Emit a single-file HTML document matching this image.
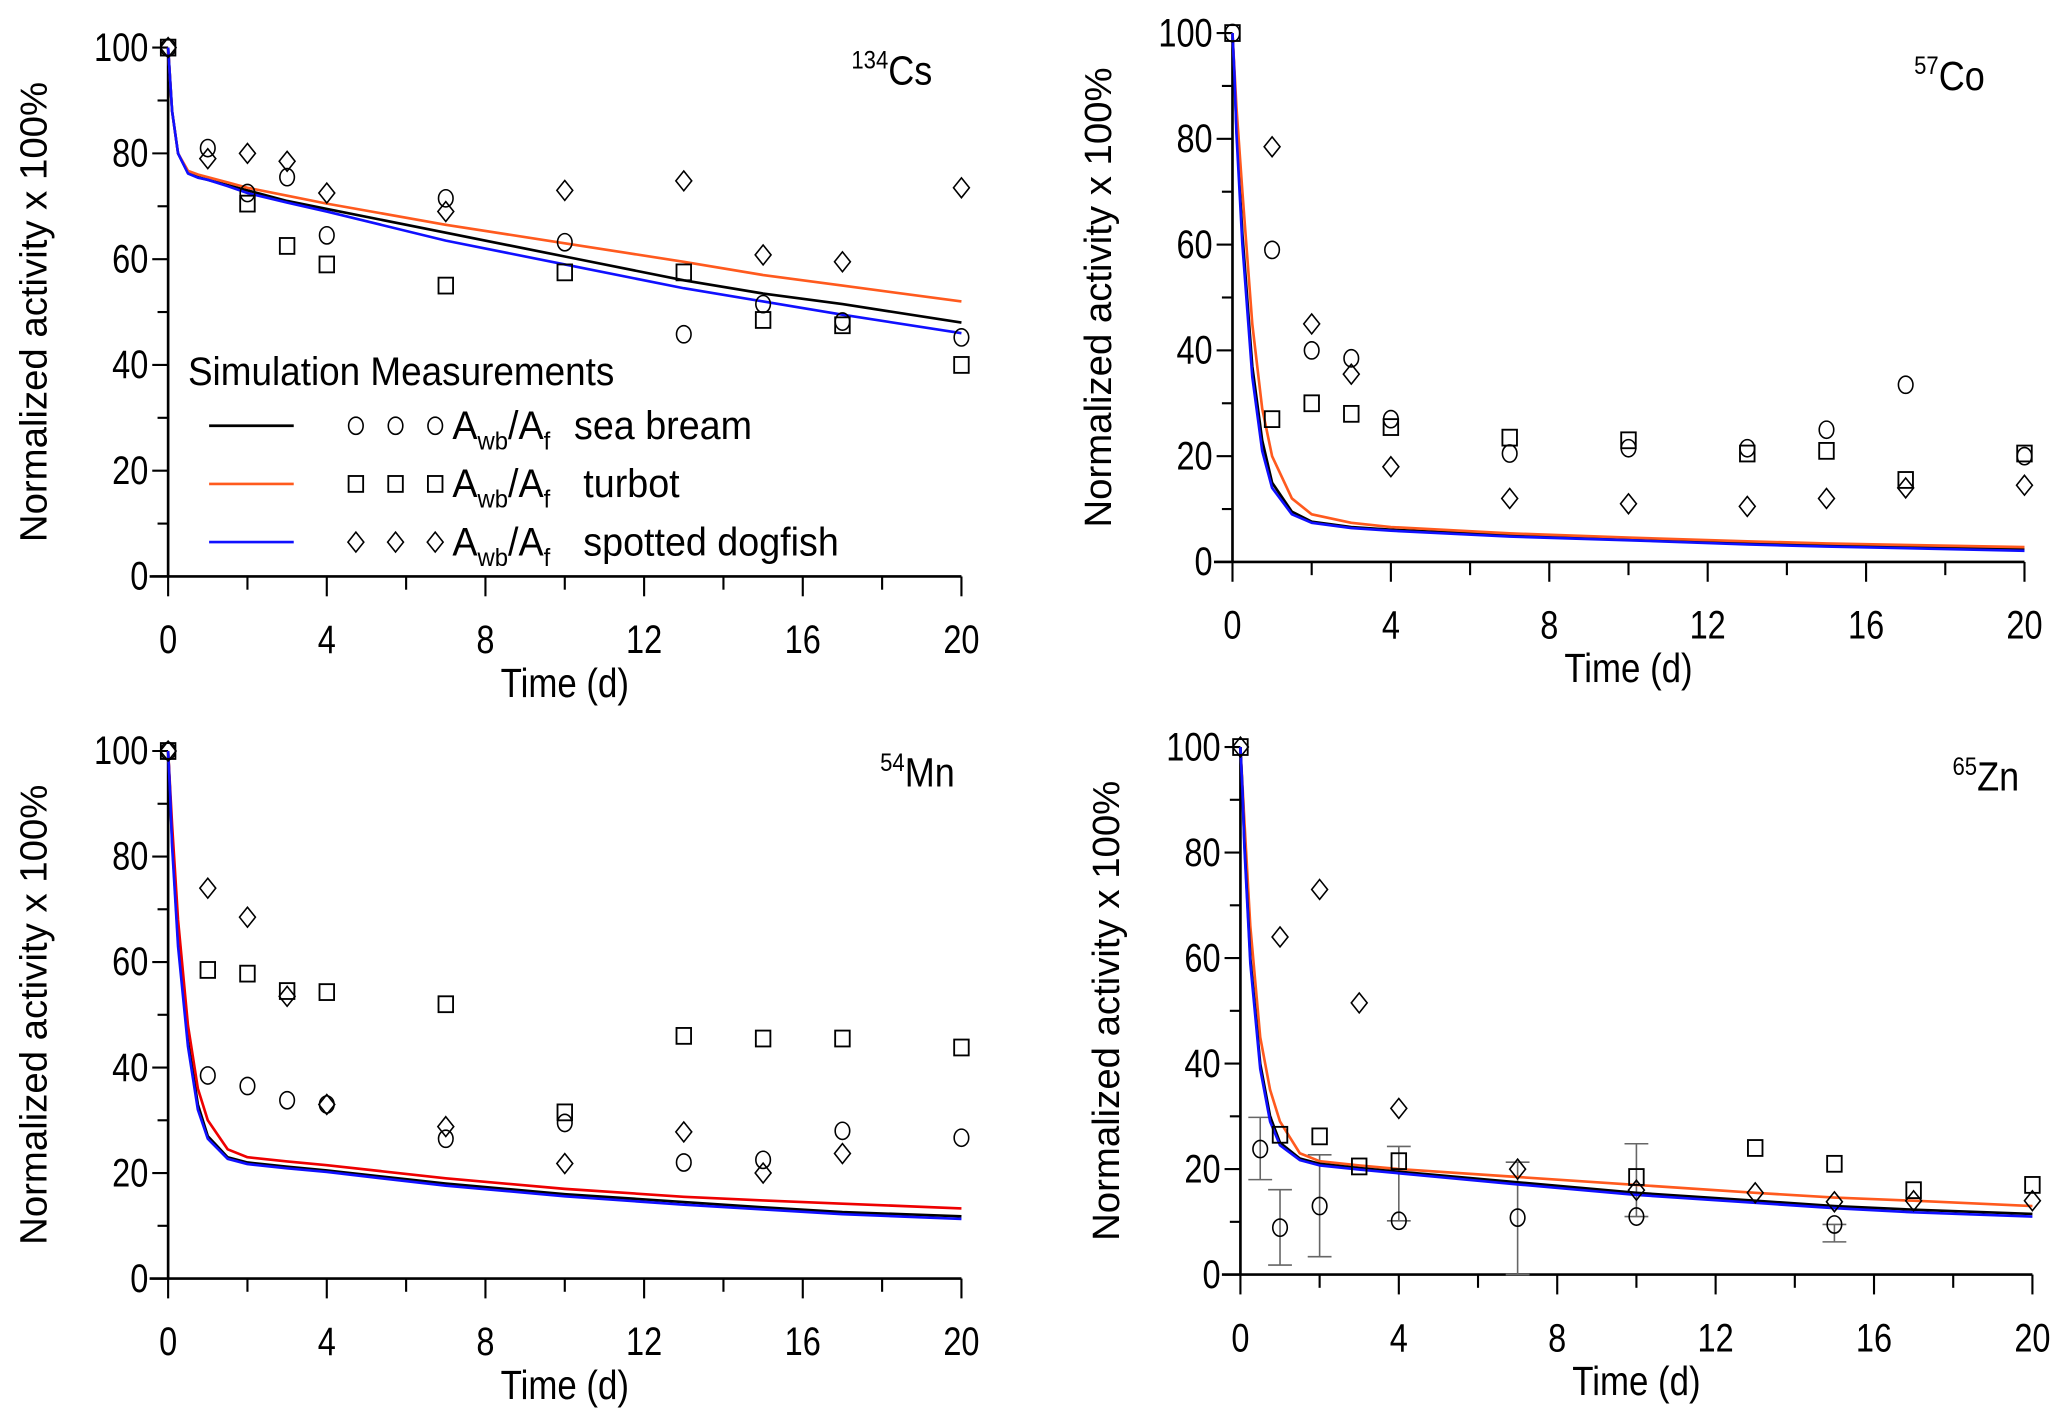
<!DOCTYPE html>
<html><head><meta charset="utf-8">
<style>
html,body{margin:0;padding:0;background:#fff;}
svg{display:block;}
.tk{font-family:"Liberation Sans",sans-serif;font-size:30px;fill:#000;}
.ti{font-family:"Liberation Sans",sans-serif;font-size:29px;fill:#000;}
.tx{font-family:"Liberation Sans",sans-serif;font-size:31px;fill:#000;}
.lg{font-family:"Liberation Sans",sans-serif;font-size:30px;fill:#000;}
</style></head>
<body>
<svg id="fig" width="2067" height="1424" viewBox="0 0 1563 1077" xmlns="http://www.w3.org/2000/svg"></svg>
<script>
// ---- data ----
const tCurve = [0,0.05,0.1,0.25,0.5,0.75,1,1.5,2,3,4,7,10,13,15,17,20];
const csBlack  = [100,94,88,80,76.3,75.5,75,74,73,71,69.5,65,60.5,56,53.5,51.5,48];
const csOrange = [100,94,88,80,76.7,76,75.5,74.5,73.5,72,70.5,66.5,63,59.5,57,55,52];
const csBlue   = [100,94,88,80,76.2,75.4,75,73.8,72.5,70.7,69,63.5,59,54.5,52,49.5,46];
const coBlack  = [100,92,82,62,37,23,15,9.5,7.6,6.6,6.1,5,4.3,3.5,3.1,2.8,2.4];
const coOrange = [100,93,86,70,45,29,20,12,9,7.4,6.6,5.4,4.6,3.9,3.5,3.2,2.8];
const coBlue   = [100,92,81,60,35,21,14,9,7.4,6.4,5.9,4.8,4.1,3.3,2.9,2.6,2.1];
const mnBlack  = [100,92,83,64,45,33,27,23,22,21.2,20.5,18,16,14.5,13.5,12.6,11.8];
const mnRed    = [100,93,86,68,48,36,30,24.5,23,22.2,21.5,19,17,15.5,14.8,14.2,13.3];
const mnBlue   = [100,92,82,63,44,32,26.5,22.7,21.7,20.9,20.2,17.6,15.6,14,13.1,12.2,11.3];
const znBlack  = [100,92,82,60,40,30,25,22,21,20.2,19.5,17.5,15.5,14,13,12.3,11.5];
const znOrange = [100,93,86,66,45,35,29,23,21.5,20.7,20,18.5,17,15.5,14.6,14,13];
const znBlue   = [100,92,81,59,39,29,24.5,21.7,20.7,19.9,19.2,17.1,15.1,13.6,12.6,11.8,11];

const csCircT=[0,1,2,3,4,7,10,13,15,17,20], csCircV=[100,81,72.5,75.5,64.5,71.5,63.2,45.8,51.5,48.2,45.2];
const csSqT=[0,2,3,4,7,10,13,15,17,20], csSqV=[100,70.5,62.5,59,55,57.5,57.5,48.5,47.5,40];
const csDiT=[0,1,2,3,4,7,10,13,15,17,20], csDiV=[100,79,80,78.5,72.5,69,73,74.8,60.8,59.5,73.5];

const coCircT=[0,1,2,3,4,7,10,13,15,17,20], coCircV=[100,59,40,38.5,27,20.5,21.5,21.5,25,33.5,20];
const coSqT=[0,1,2,3,4,7,10,13,15,17,20], coSqV=[100,27,30,28,25.5,23.5,23,20.5,21,15.5,20.5];
const coDiT=[1,2,3,4,7,10,13,15,17,20], coDiV=[78.5,45,35.5,18,12,11,10.5,12,14,14.5];

const mnCircT=[0,1,2,3,4,7,10,13,15,17,20], mnCircV=[100,38.5,36.5,33.8,33,26.5,29.5,22,22.5,28,26.7];
const mnSqT=[0,1,2,3,4,7,10,13,15,17,20], mnSqV=[100,58.5,57.8,54.5,54.3,52,31.5,46,45.5,45.5,43.8];
const mnDiT=[0,1,2,3,4,7,10,13,15,17], mnDiV=[100,74,68.5,53.5,33,28.8,21.8,27.8,20,23.7];

const znCircT=[0.5,1,2,4,7,10,15], znCircV=[23.8,8.9,13,10.2,10.8,11,9.5];
const znErrLo=[18,1.8,3.4,10.2,0,11,6.2], znErrHi=[29.8,16.1,22.7,24.3,21.3,24.8,9.5];
const znSqT=[0,1,2,3,4,10,13,15,17,20], znSqV=[100,26.5,26.2,20.5,21.5,18.5,24,21,16,17];
const znDiT=[0,1,2,3,4,7,10,13,15,17,20], znDiV=[100,64,73,51.5,31.5,20,16,15.5,13.8,14,14];

const xTicks=[0,4,8,12,16,20], yTicks=[0,20,40,60,80,100];

const panels=[
 {name:'cs',x0:127,x1:727,yt:36,yb:436,label:'Cs',sup:'134',lx:705,ly:64,
  curves:[[csBlack,'#000'],[csOrange,'#ff5a1e'],[csBlue,'#1010ff']],
  circ:[csCircT,csCircV],sq:[csSqT,csSqV],di:[csDiT,csDiV]},
 {name:'co',x0:932,x1:1531,yt:25,yb:425,label:'Co',sup:'57',lx:1501,ly:68,
  curves:[[coBlack,'#000'],[coOrange,'#ff5a1e'],[coBlue,'#1010ff']],
  circ:[coCircT,coCircV],sq:[coSqT,coSqV],di:[coDiT,coDiV]},
 {name:'mn',x0:127,x1:727,yt:568,yb:967,label:'Mn',sup:'54',lx:722,ly:595,
  curves:[[mnBlack,'#000'],[mnRed,'#ee0000'],[mnBlue,'#1010ff']],
  circ:[mnCircT,mnCircV],sq:[mnSqT,mnSqV],di:[mnDiT,mnDiV]},
 {name:'zn',x0:938,x1:1537,yt:565,yb:964,label:'Zn',sup:'65',lx:1527,ly:598,
  curves:[[znOrange,'#ff5a1e'],[znBlack,'#000'],[znBlue,'#1010ff']],
  circ:[znCircT,znCircV],sq:[znSqT,znSqV],di:[znDiT,znDiV],err:[znErrLo,znErrHi]}
];
const NS='http://www.w3.org/2000/svg';
const svg=document.getElementById('fig');
function mk(tag,attrs,parent){const e=document.createElementNS(NS,tag);for(const k in attrs)e.setAttribute(k,attrs[k]);(parent||svg).appendChild(e);return e;}
function narrow(x,y,s){return `translate(${x} ${y}) scale(${s} 1) translate(${-x} ${-y})`;}

panels.forEach(p=>{
 const g=mk('g',{});
 
 
 const X=t=>p.x0+(p.x1-p.x0)*t/20;
 const Y=v=>p.yb-(p.yb-p.yt)*v/100;
 const ya=mk('line',{x1:p.x0,y1:p.yt,x2:p.x0,y2:p.yb,stroke:'#000','stroke-width':2},g);
 
 
 const xa=mk('line',{x1:p.x0-14,y1:p.yb,x2:p.x1,y2:p.yb,stroke:'#000','stroke-width':2},g);
 
 
 for(let v=0;v<=100;v+=10){mk('line',{x1:p.x0-(v%20?8:12),y1:Y(v),x2:p.x0,y2:Y(v),stroke:'#000','stroke-width':1.6},g);}
 for(let t=0;t<=20;t+=2){mk('line',{x1:X(t),y1:p.yb,x2:X(t),y2:p.yb+(t%4?10:15),stroke:'#000','stroke-width':1.6},g);}
 yTicks.forEach(v=>{const x=p.x0-15,y=Y(v)+10;const e=mk('text',{x:x,y:y,'text-anchor':'end',class:'tk',transform:narrow(x,y,0.82)},g);e.textContent=v;
  
  });
 xTicks.forEach(t=>{const x=X(t),y=p.yb+58;const e=mk('text',{x:x,y:y,'text-anchor':'middle',class:'tk',transform:narrow(x,y,0.82)},g);e.textContent=t;
  
  });
 const tx=(p.x0+p.x1)/2, ty=p.yb+91;
 const xt=mk('text',{x:tx,y:ty,'text-anchor':'middle',class:'tx',transform:narrow(tx,ty,0.85)},g);xt.textContent='Time (d)';
 
 
 const yc=(p.yt+p.yb)/2, yx=p.x0-92;
 const yt=mk('text',{x:yx,y:yc,'text-anchor':'middle',class:'ti',transform:`rotate(-90 ${yx} ${yc})`},g);yt.textContent='Normalized activity x 100%';
 
 
 const lb=mk('text',{x:p.lx,y:p.ly,'text-anchor':'end',class:'tx',transform:narrow(p.lx,p.ly,0.88)},g);
 lb.innerHTML=`<tspan font-size="19" dy="-12">${p.sup}</tspan><tspan dy="12">${p.label}</tspan>`;
 
 
 if(p.err){p.circ[0].forEach((t,i)=>{const lo=p.err[0][i],hi=p.err[1][i];
  const eb=mk('path',{d:`M${X(t)},${Y(lo)}V${Y(hi)}M${X(t)-9},${Y(lo)}h18M${X(t)-9},${Y(hi)}h18`,stroke:'#666','stroke-width':1.2,fill:'none'},g);
  
  });}
 p.curves.forEach(([vals,col])=>{const d=tCurve.map((t,i)=>(i?'L':'M')+X(t)+','+Y(vals[i])).join('');
  const c=mk('path',{d:d,stroke:col,'stroke-width':2,fill:'none','stroke-linejoin':'round'},g);
  
  });
 p.circ[0].forEach((t,i)=>{const m=mk('ellipse',{cx:X(t),cy:Y(p.circ[1][i]),rx:5.5,ry:6.5,fill:'none',stroke:'#000','stroke-width':1.2},g);
  
  });
 p.sq[0].forEach((t,i)=>{const m=mk('rect',{x:X(t)-5.5,y:Y(p.sq[1][i])-6,width:11,height:12,fill:'none',stroke:'#000','stroke-width':1.4},g);
  
  });
 p.di[0].forEach((t,i)=>{const x=X(t),y=Y(p.di[1][i]);const m=mk('path',{d:`M${x},${y-7.5}L${x+6},${y}L${x},${y+7.5}L${x-6},${y}Z`,fill:'none',stroke:'#000','stroke-width':1.2},g);
  
  });
});

// legend (panel 1)
const lg=mk('g',{});


const hd=mk('text',{x:142,y:291,class:'lg','font-size':'27',transform:narrow(142,291,0.93)},lg);hd.textContent='Simulation Measurements';
const rows=[['#000','o','sea bream',434],['#ff5a1e','s','turbot',441],['#1010ff','d','spotted dogfish',441]];
rows.forEach((r,i)=>{const y=322+i*44;
 mk('line',{x1:158,y1:y,x2:222,y2:y,stroke:r[0],'stroke-width':2},lg);
 [269,299,329].forEach(x=>{
  if(r[1]=='o')mk('ellipse',{cx:x,cy:y,rx:5.5,ry:6.5,fill:'none',stroke:'#000','stroke-width':1.2},lg);
  else if(r[1]=='s')mk('rect',{x:x-5.5,y:y-6,width:11,height:12,fill:'none',stroke:'#000','stroke-width':1.4},lg);
  else mk('path',{d:`M${x},${y-7.5}L${x+6},${y}L${x},${y+7.5}L${x-6},${y}Z`,fill:'none',stroke:'#000','stroke-width':1.2},lg);
 });
 const t=mk('text',{x:342,y:y+10,class:'lg',transform:narrow(342,y+10,0.95)},lg);
 t.innerHTML=`A<tspan font-size="19" dy="8">wb</tspan><tspan dy="-8">/A</tspan><tspan font-size="19" dy="8">f</tspan>`;
 const n=mk('text',{x:r[3],y:y+10,class:'lg',transform:narrow(r[3],y+10,0.95)},lg);n.textContent=r[2];
 
 
});
</script>
</body></html>
